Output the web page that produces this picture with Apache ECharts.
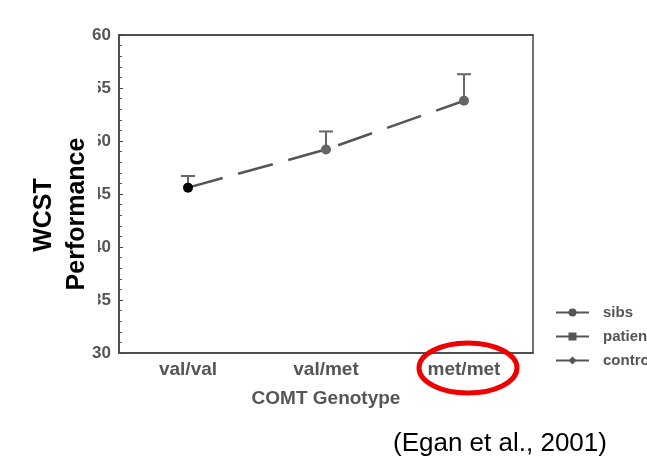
<!DOCTYPE html>
<html>
<head>
<meta charset="utf-8">
<script src="https://cdn.jsdelivr.net/npm/echarts@6/dist/echarts.min.js"></script>
<style>
  html, body { margin: 0; padding: 0; background: #fff; }
  #chart { width: 647px; height: 466px; }
</style>
</head>
<body>
<div id="chart"></div>
<script>
const genotypes = ['val/val', 'val/met', 'met/met'];
const sibsMean = [45.6, 49.2, 53.8];
const sibsUpper = [46.7, 50.9, 56.3];
const yTicks = [30, 35, 40, 45, 50, 55, 60];
const legendNames = ['sibs', 'patients', 'controls'];

const chart = echarts.init(document.getElementById('chart'), null, { renderer: 'canvas' });

const font = '"Liberation Sans", Arial, sans-serif';

chart.setOption({
    animation: false,
    backgroundColor: '#fff',
    grid: { left: 119, top: 35, right: 114, bottom: 113, show: true, borderColor: '#444', borderWidth: 1.5 },
    legend: {
        data: legendNames,
        orient: 'vertical',
        left: 550,
        top: 300,
        itemWidth: 33,
        itemHeight: 10,
        itemGap: 9,
        textStyle: { fontFamily: font, fontWeight: 'bold', fontSize: 15, color: '#555', padding: [0, 0, 0, 9] }
    },
    xAxis: [{
        type: 'category',
        data: genotypes,
        boundaryGap: true,
        name: 'COMT Genotype',
        nameLocation: 'middle',
        nameGap: 36,
        nameTextStyle: { fontFamily: font, fontWeight: 'bold', fontSize: 19, color: '#555' },
        axisLine: { lineStyle: { color: '#444', width: 1.5 } },
        axisTick: { inside: true, alignWithLabel: true, length: 3, lineStyle: { color: '#444' } },
        axisLabel: { fontFamily: font, fontWeight: 'bold', fontSize: 19, color: '#555', margin: 7 }
    }, {
        type: 'category',
        data: genotypes,
        position: 'top',
        boundaryGap: true,
        axisLine: { lineStyle: { color: '#444', width: 1.5 } },
        axisTick: { inside: true, alignWithLabel: true, length: 3, lineStyle: { color: '#444' } },
        axisLabel: { show: false }
    }],
    yAxis: {
        type: 'value',
        min: 30,
        max: 60,
        interval: 5,
        axisLine: { show: true, lineStyle: { color: '#444', width: 1.5 } },
        axisTick: { show: true, inside: true, length: 4, lineStyle: { color: '#444' } },
        minorTick: { show: true, splitNumber: 5, length: 3, lineStyle: { color: '#555' } },
        splitLine: { show: false },
        axisLabel: {
            fontFamily: font, fontWeight: 'bold', fontSize: 17, color: '#555', margin: 8,
            formatter: v => yTicks.includes(v) ? String(v) : ''
        }
    },
    series: [
        {
            name: 'sibs',
            type: 'line',
            data: sibsMean.map((v, i) => ({
                value: v,
                itemStyle: { color: i === 0 ? '#000' : '#666' }
            })),
            symbol: 'circle',
            symbolSize: 10,
            itemStyle: { color: '#555' },
            lineStyle: { color: '#555', width: 2.5, type: [36, 16] },
            z: 3
        },
        {
            name: 'patients',
            type: 'line',
            data: [],
            symbol: 'rect',
            symbolSize: 10,
            itemStyle: { color: '#555' },
            lineStyle: { color: '#555', width: 2.5 }
        },
        {
            name: 'controls',
            type: 'line',
            data: [],
            symbol: 'diamond',
            symbolSize: 9,
            itemStyle: { color: '#555' },
            lineStyle: { color: '#555', width: 2.5 }
        },
        {
            name: 'err',
            type: 'custom',
            data: sibsMean.map((v, i) => [i, v, sibsUpper[i]]),
            renderItem: (params, api) => {
                const base = api.coord([api.value(0), api.value(1)]);
                const top = api.coord([api.value(0), api.value(2)]);
                const cap = 7;
                return {
                    type: 'group',
                    children: [
                        { type: 'line', shape: { x1: base[0], y1: base[1], x2: top[0], y2: top[1] },
                          style: { stroke: '#666', lineWidth: 2 } },
                        { type: 'line', shape: { x1: top[0] - cap, y1: top[1], x2: top[0] + cap, y2: top[1] },
                          style: { stroke: '#666', lineWidth: 2 } }
                    ]
                };
            },
            z: 2
        }
    ],
    graphic: [
        // white patch over most of the first digit of the inner tick labels, as in the scan
        { type: 'rect', shape: { x: 86, y: 55, width: 12, height: 285 }, style: { fill: '#fff' }, z: 50 },
        { type: 'text', x: 44, y: 215, rotation: Math.PI / 2, style: { text: 'WCST', font: 'bold 25px ' + font, fill: '#000', textAlign: 'center', textVerticalAlign: 'middle' }, z: 60 },
        { type: 'text', x: 77, y: 214, rotation: Math.PI / 2, style: { text: 'Performance', font: 'bold 25px ' + font, fill: '#000', textAlign: 'center', textVerticalAlign: 'middle' }, z: 60 },
        { type: 'ellipse', shape: { cx: 468, cy: 368, rx: 49, ry: 25 }, style: { fill: 'none', stroke: '#ee0000', lineWidth: 5 }, z: 60 },
        { type: 'text', x: 393, y: 431, style: { text: '(Egan et al., 2001)', font: '26px ' + font, fill: '#000' }, z: 60 }
    ]
});
</script>
</body>
</html>
